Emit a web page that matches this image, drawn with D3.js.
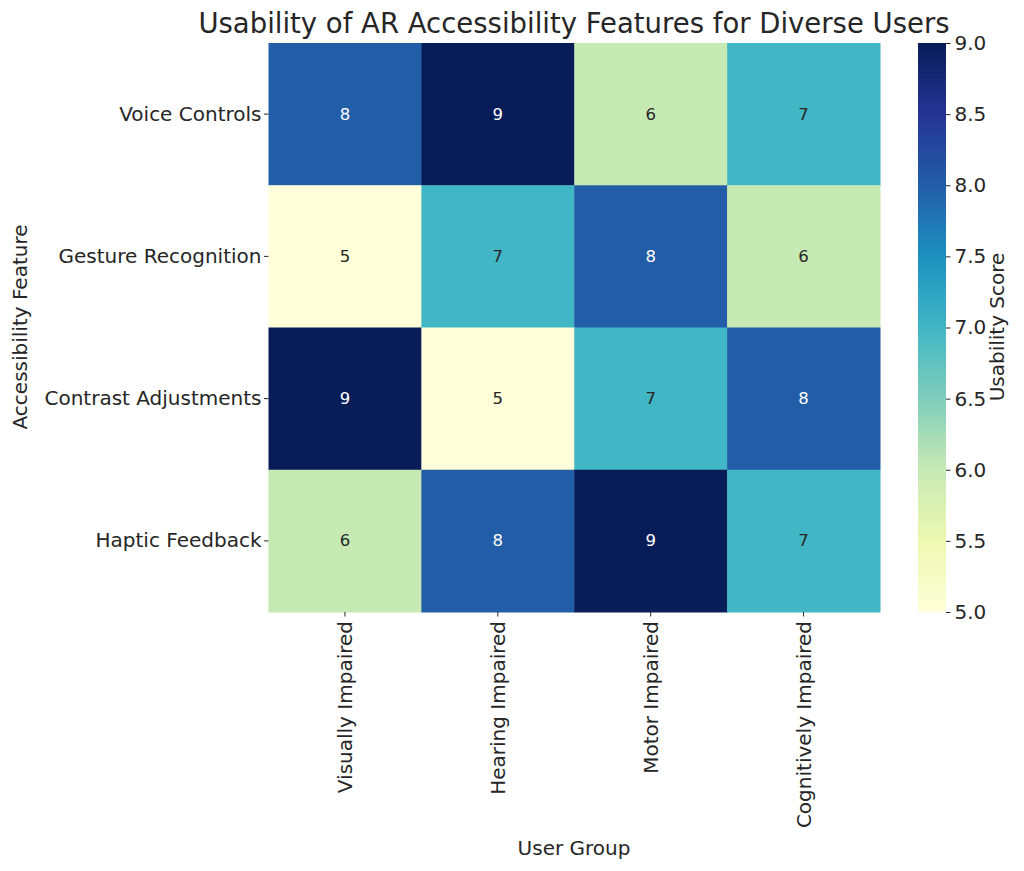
<!DOCTYPE html>
<html><head><meta charset="utf-8">
<script src="https://cdn.jsdelivr.net/npm/d3@7"></script>
<style>body{margin:0;background:#fff}text{font-family:"DejaVu Sans",sans-serif;fill:#262626}</style>
</head><body><svg id="c" width="1024" height="871"></svg>
<script>
const features = ["Voice Controls","Gesture Recognition","Contrast Adjustments","Haptic Feedback"];
const groups = ["Visually Impaired","Hearing Impaired","Motor Impaired","Cognitively Impaired"];
const scores = [
  [8,9,6,7],
  [5,7,8,6],
  [9,5,7,8],
  [6,8,9,7]
];
const cbTicks = [5.0,5.5,6.0,6.5,7.0,7.5,8.0,8.5,9.0];
const palette = ["#ffffd9","#edf8b1","#c7e9b4","#7fcdbb","#41b6c4","#1d91c0","#225ea8","#253494","#081d58"];

const svg = d3.select("#c");
const L=268.5, R=880, T=43, B=612;
const x = d3.scaleBand().domain(groups).range([L,R]);
const y = d3.scaleBand().domain(features).range([T,B]);
const vmin=5, vmax=9;
const color = d3.scaleLinear().domain(palette.map((_,i)=>vmin+(vmax-vmin)*i/(palette.length-1))).range(palette).interpolate(d3.interpolateRgb);

const cells=[];
features.forEach((f,i)=>groups.forEach((g,j)=>cells.push({f,g,v:scores[i][j]})));
svg.append("g").selectAll("rect").data(cells).join("rect")
  .attr("x",d=>x(d.g)).attr("y",d=>y(d.f))
  .attr("width",x.bandwidth()+0.5).attr("height",y.bandwidth()+0.5)
  .attr("fill",d=>color(d.v));
svg.append("g").selectAll("text").data(cells).join("text")
  .attr("x",d=>x(d.g)+x.bandwidth()/2).attr("y",d=>y(d.f)+y.bandwidth()/2)
  .attr("text-anchor","middle").attr("dominant-baseline","central")
  .style("font-size","16.5px")
  .style("fill",d=>{const c=d3.rgb(color(d.v));const lum=(0.2126*c.r+0.7152*c.g+0.0722*c.b)/255;return lum>0.45?"#262626":"#ffffff";})
  .text(d=>d.v);

// axes
const xa = svg.append("g").attr("transform",`translate(0,${B})`).call(d3.axisBottom(x).tickSize(4.5).tickPadding(4));
xa.select(".domain").remove();
xa.selectAll("line").attr("stroke","#262626").attr("stroke-width",1);
xa.selectAll("text").style("font-size","20px").attr("transform","rotate(-90)")
  .attr("text-anchor","end").attr("x",-9).attr("y",0).attr("dy","0.35em");
const ya = svg.append("g").attr("transform",`translate(${L},0)`).call(d3.axisLeft(y).tickSize(4.5).tickPadding(2.5));
ya.select(".domain").remove();
ya.selectAll("line").attr("stroke","#262626").attr("stroke-width",1);
ya.selectAll("text").style("font-size","20px");

// labels
svg.append("text").attr("x",574).attr("y",33).attr("text-anchor","middle").style("font-size","27.5px").text("Usability of AR Accessibility Features for Diverse Users");
svg.append("text").attr("x",574).attr("y",855).attr("text-anchor","middle").style("font-size","20px").text("User Group");
svg.append("text").attr("transform","translate(27,327) rotate(-90)").attr("text-anchor","middle").style("font-size","20px").text("Accessibility Feature");

// colorbar
const cbL=918, cbW=28;
const cy = d3.scaleLinear().domain([vmin,vmax]).range([B,T]);
const defs = svg.append("defs");
const grad = defs.append("linearGradient").attr("id","cbg").attr("x1",0).attr("y1",1).attr("x2",0).attr("y2",0);
palette.forEach((c,i)=>grad.append("stop").attr("offset",i/(palette.length-1)).attr("stop-color",c));
svg.append("rect").attr("x",cbL).attr("y",T).attr("width",cbW).attr("height",B-T).attr("fill","url(#cbg)");
const ca = svg.append("g").attr("transform",`translate(${cbL+cbW},0)`).call(d3.axisRight(cy).tickValues(cbTicks).tickFormat(d3.format(".1f")).tickSize(4.5).tickPadding(4));
ca.select(".domain").remove();
ca.selectAll("line").attr("stroke","#262626").attr("stroke-width",1);
ca.selectAll("text").style("font-size","20px");
svg.append("text").attr("transform","translate(1004,327) rotate(-90)").attr("text-anchor","middle").style("font-size","20px").text("Usability Score");
</script></body></html>
